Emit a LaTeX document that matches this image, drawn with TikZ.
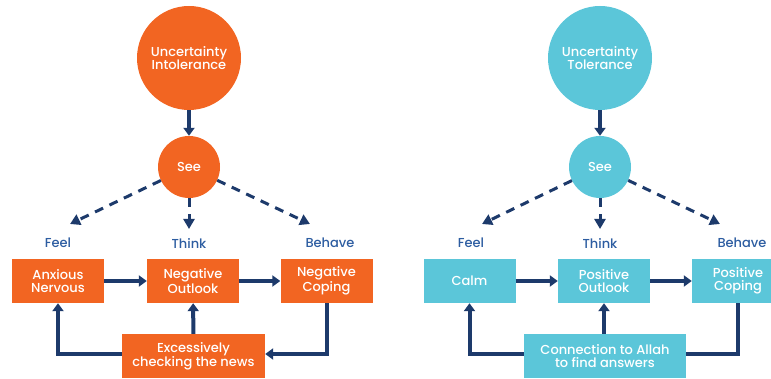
\documentclass[tikz,border=0pt]{standalone}
\usepackage{fontspec}
\setmainfont{Poppins Medium}
\usetikzlibrary{arrows.meta,positioning,calc}
\definecolor{ucOrange}{HTML}{F26522}
\definecolor{ucTeal}{HTML}{5BC6D9}
\definecolor{ucNavy}{HTML}{1D3A6B}
\definecolor{ucBlue}{HTML}{2D5DA1}
\tikzset{
  bigcirc/.style={circle,minimum size=104pt,inner sep=0pt,text=white,align=center,font=\fontsize{13}{13.5}\selectfont},
  seecirc/.style={circle,minimum size=62pt,inner sep=0pt,text=white,font=\fontsize{13}{13.5}\selectfont},
  boxnode/.style={minimum width=92pt,minimum height=44pt,inner sep=0pt,text=white,align=center,font=\fontsize{13}{13}\selectfont},
  tag/.style={text=ucBlue,font=\fontsize{13}{13.5}\selectfont},
  flow/.style={ucNavy,line width=4pt,-{Triangle[width=11pt,length=8pt]}},
  plainflow/.style={ucNavy,line width=4pt},
  guess/.style={ucNavy,line width=3pt,dash pattern=on 9pt off 7pt,-{Triangle[width=11pt,length=10pt]}}
}
\begin{document}
\begin{tikzpicture}[x=1pt,y=-1pt]
    \clip (0,0) rectangle (771,379);

    % intolerance side
    \node[bigcirc,fill=ucOrange] (ui) at (189,58) {Uncertainty\\Intolerance};
    \node[seecirc,fill=ucOrange] (seeL) at (189,167) {See};
    \draw[flow] (ui) -- (seeL);
    \coordinate (feelL) at (70,224);
    \coordinate (thinkL) at (189,229);
    \coordinate (behaveL) at (310,224);
    \draw[guess] (seeL) -- (feelL);
    \draw[guess] (seeL) -- (thinkL);
    \draw[guess] (seeL) -- (behaveL);
    \node[tag] (feelTL) at (58,243) {Feel};
    \node[tag] (thinkTL) at (189,243) {Think};
    \node[tag] (behaveTL) at (330,243) {Behave};

    \node[boxnode,fill=ucOrange] (anx) at (58,281) {Anxious\\Nervous};
    \node[boxnode,fill=ucOrange] (negOut) at (193,281) {Negative\\Outlook};
    \node[boxnode,fill=ucOrange] (negCop) at (326.5,281) {Negative\\Coping};
    \node[boxnode,fill=ucOrange,minimum width=143pt] (news) at (193.5,356) {Excessively\\checking the news};
    \draw[flow] (anx) -- (negOut);
    \draw[flow] (negOut) -- (negCop);
    \draw[flow] (news) -- (negOut);
    \draw[flow] ([yshift=2pt]news.west) -| (anx.south);
    \draw[flow] (negCop.south) |- ([yshift=2pt]news.east);

    % tolerance side
    \node[bigcirc,fill=ucTeal] (ut) at (600,58) {Uncertainty\\Tolerance};
    \node[seecirc,fill=ucTeal] (seeR) at (600,167) {See};
    \draw[flow] (ut) -- (seeR);
    \coordinate (feelR) at (482,224);
    \coordinate (thinkR) at (600,229);
    \coordinate (behaveR) at (720,224);
    \draw[guess] (seeR) -- (feelR);
    \draw[guess] (seeR) -- (thinkR);
    \draw[guess] (seeR) -- (behaveR);
    \node[tag] (feelTR) at (471,243) {Feel};
    \node[tag] (thinkTR) at (600,243) {Think};
    \node[tag] (behaveTR) at (742,243) {Behave};

    \node[boxnode,fill=ucTeal] (calm) at (469.5,281) {Calm};
    \node[boxnode,fill=ucTeal] (posOut) at (604,281) {Positive\\Outlook};
    \node[boxnode,fill=ucTeal] (posCop) at (738,281) {Positive\\Coping};
    \node[boxnode,fill=ucTeal,minimum width=162pt] (allah) at (605,356) {Connection to Allah\\to find answers};
    \draw[flow] (calm) -- (posOut);
    \draw[flow] (posOut) -- (posCop);
    \draw[flow] (allah.north -| posOut.south) -- (posOut);
    \draw[flow] ([yshift=2pt]allah.west) -| (calm.south);
    \draw[plainflow] (posCop.south) |- ([yshift=2pt]allah.east);
\end{tikzpicture}
\end{document}
